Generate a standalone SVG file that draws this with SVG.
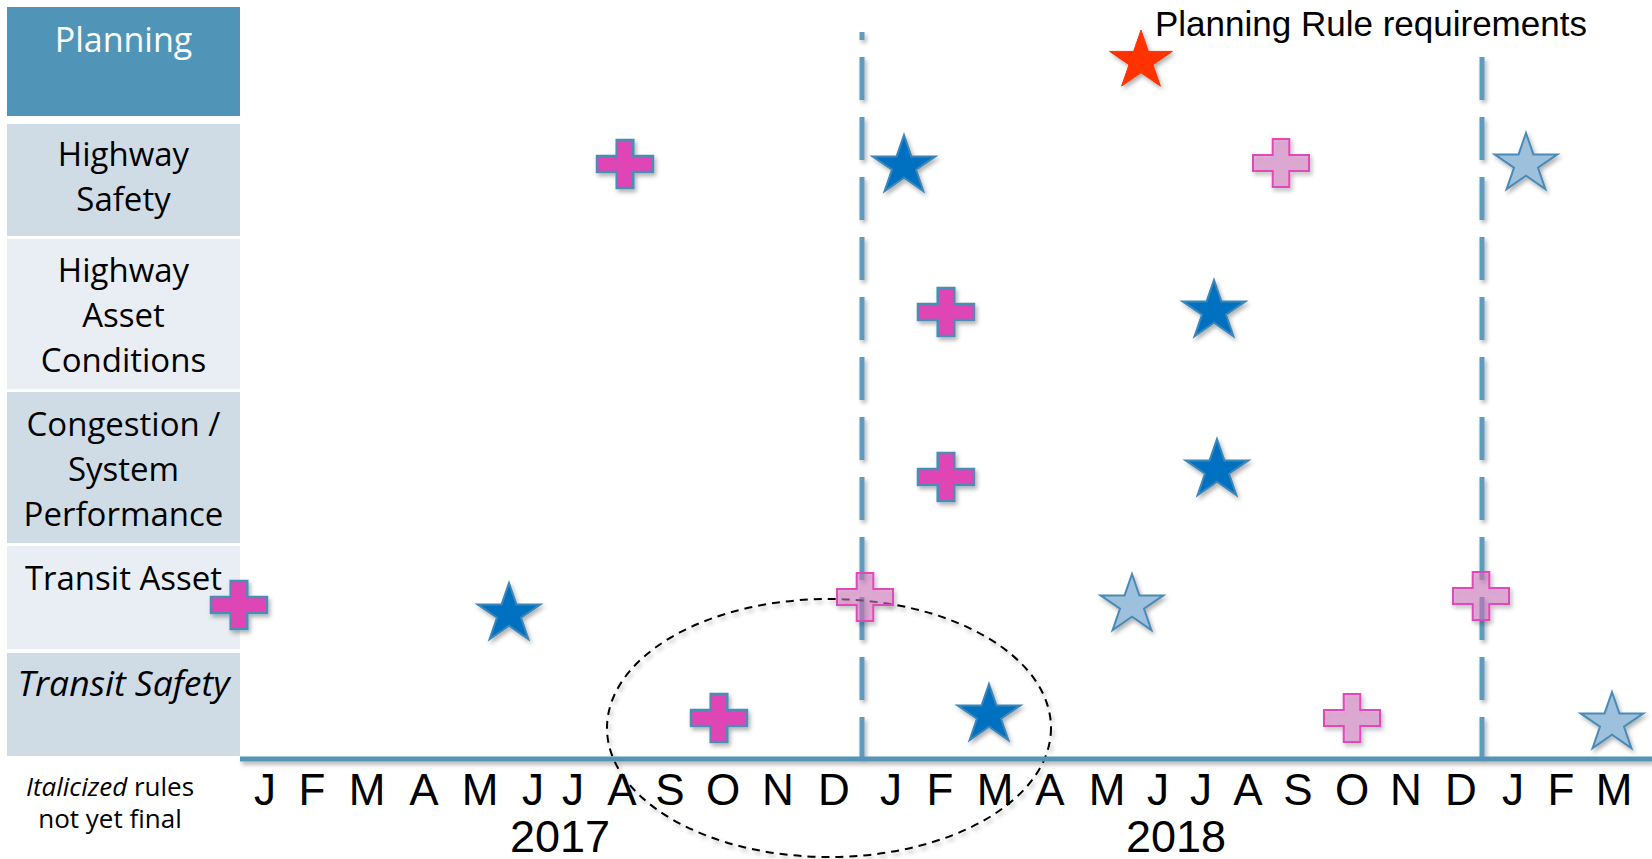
<svg xmlns="http://www.w3.org/2000/svg" width="1652" height="859" viewBox="0 0 1652 859">
<style>
.lbl{font-family:"Open Sans","Noto Sans",sans-serif;font-size:33px;fill:#000;text-anchor:middle}
.mon{font-family:"Liberation Sans",Arial,sans-serif;font-size:44px;fill:#000;text-anchor:middle}
.yr{font-family:"Liberation Sans",Arial,sans-serif;font-size:45px;fill:#000;text-anchor:middle}
.note{font-family:"Open Sans","Noto Sans",sans-serif;font-size:26px;fill:#000;text-anchor:middle}
.dk{fill:#CFDCE6}
.lt{fill:#E8EEF3}
.vdash{stroke:#5F9BBF;stroke-width:5;stroke-dasharray:43 17;fill:none}
.plusM{fill:#E045B5;stroke:#4B8DB5;stroke-width:2.5}
.plusP{fill:#D47AC0;fill-opacity:0.55;stroke:#E048B8;stroke-width:2}
.starB{fill:#0070C0;stroke:#3E86B8;stroke-width:2}
.starL{fill:#9DC1DC;stroke:#4A8BB6;stroke-width:2}
.starR{fill:#FF3300;stroke:#FF3300;stroke-width:1}
</style>
<defs>
<filter id="sh" filterUnits="userSpaceOnUse" x="0" y="0" width="1652" height="859">
<feDropShadow dx="2" dy="3" stdDeviation="2" flood-color="#000" flood-opacity="0.3"/>
</filter>
<path id="plus" d="M-8.3,-24 H8.3 V-8 H28 V8 H8.3 V24 H-8.3 V8 H-28 V-8 H-8.3 Z"/>
<path id="star" d="M0,-31 L7.4,-9.6 L31.4,-9.6 L12,3.7 L19.4,25.1 L0,11.8 L-19.4,25.1 L-12,3.7 L-31.4,-9.6 L-7.4,-9.6 Z"/>
</defs>
<rect width="1652" height="859" fill="#fff"/>

<g id="row-planning">
<rect x="7" y="7" width="233" height="109" fill="#5094B8"/>
<text class="lbl" x="123.5" y="52" style="fill:#fff;font-size:34px">Planning</text>
</g>
<g id="row-highway-safety">
<rect class="dk" x="7" y="124" width="233" height="112"/>
<text class="lbl" x="123.5" y="166">Highway</text>
<text class="lbl" x="123.5" y="211">Safety</text>
</g>
<g id="row-highway-asset">
<rect class="lt" x="7" y="239" width="233" height="150"/>
<text class="lbl" x="123.5" y="282">Highway</text>
<text class="lbl" x="123.5" y="327">Asset</text>
<text class="lbl" x="123.5" y="372">Conditions</text>
</g>
<g id="row-congestion">
<rect class="dk" x="7" y="392" width="233" height="151"/>
<text class="lbl" x="123.5" y="436">Congestion /</text>
<text class="lbl" x="123.5" y="481">System</text>
<text class="lbl" x="123.5" y="526">Performance</text>
</g>
<g id="row-transit-asset">
<rect class="lt" x="7" y="546" width="233" height="103"/>
<text class="lbl" x="123.5" y="590">Transit Asset</text>
</g>
<g id="row-transit-safety">
<rect class="dk" x="7" y="653" width="233" height="103"/>
<text class="lbl" x="123.5" y="696" font-style="italic" style="font-size:35.5px">Transit Safety</text>
</g>
<g id="footnote">
<text class="note" x="110" y="796"><tspan font-style="italic">Italicized</tspan> rules</text>
<text class="note" x="110" y="828">not yet final</text>
</g>

<g id="connectors" filter="url(#sh)">
<line class="vdash" x1="862" y1="32" x2="862" y2="759" stroke-dashoffset="35"/>
<line class="vdash" x1="1482" y1="57" x2="1482" y2="759"/>
<ellipse cx="829" cy="728" rx="222" ry="129" fill="none" stroke="#000" stroke-width="2" stroke-dasharray="8 6"/>
<line x1="240" y1="759" x2="1652" y2="759" stroke="#5294B7" stroke-width="5"/>
</g>

<g id="months">
<text class="mon" x="265" y="805">J</text>
<text class="mon" x="312" y="805">F</text>
<text class="mon" x="367" y="805">M</text>
<text class="mon" x="424" y="805">A</text>
<text class="mon" x="480" y="805">M</text>
<text class="mon" x="533" y="805">J</text>
<text class="mon" x="573" y="805">J</text>
<text class="mon" x="622" y="805">A</text>
<text class="mon" x="670" y="805">S</text>
<text class="mon" x="723" y="805">O</text>
<text class="mon" x="778" y="805">N</text>
<text class="mon" x="834" y="805">D</text>
<text class="mon" x="891" y="805">J</text>
<text class="mon" x="940" y="805">F</text>
<text class="mon" x="995" y="805">M</text>
<text class="mon" x="1050" y="805">A</text>
<text class="mon" x="1107" y="805">M</text>
<text class="mon" x="1158" y="805">J</text>
<text class="mon" x="1201" y="805">J</text>
<text class="mon" x="1248" y="805">A</text>
<text class="mon" x="1298" y="805">S</text>
<text class="mon" x="1352" y="805">O</text>
<text class="mon" x="1406" y="805">N</text>
<text class="mon" x="1461" y="805">D</text>
<text class="mon" x="1513" y="805">J</text>
<text class="mon" x="1561" y="805">F</text>
<text class="mon" x="1614" y="805">M</text>
<text class="yr" x="560" y="852">2017</text>
<text class="yr" x="1176" y="852">2018</text>
</g>

<g id="legend-title">
<text x="1155" y="36" style="font-family:'Liberation Sans',Arial,sans-serif;font-size:35px">Planning Rule requirements</text>
<g filter="url(#sh)"><use href="#star" class="starR" transform="translate(1141,61)"/></g>
</g>

<g id="markers" filter="url(#sh)">
<g id="hs-plus"><use href="#plus" class="plusM" transform="translate(625,164)"/></g>
<g id="hs-star"><use href="#star" class="starB" transform="translate(904,166)"/></g>
<g id="hs-plus2"><use href="#plus" class="plusP" transform="translate(1281,163)"/></g>
<g id="hs-star2"><use href="#star" class="starL" transform="translate(1526,164)"/></g>
<g id="ha-plus"><use href="#plus" class="plusM" transform="translate(946,312)"/></g>
<g id="ha-star"><use href="#star" class="starB" transform="translate(1214,311)"/></g>
<g id="cg-plus"><use href="#plus" class="plusM" transform="translate(946,477)"/></g>
<g id="cg-star"><use href="#star" class="starB" transform="translate(1217,470)"/></g>
<g id="ta-plus"><use href="#plus" class="plusM" transform="translate(239,605)"/></g>
<g id="ta-star"><use href="#star" class="starB" transform="translate(509,614)"/></g>
<g id="ta-plus2"><use href="#plus" class="plusP" transform="translate(865,597)"/></g>
<g id="ta-star2"><use href="#star" class="starL" transform="translate(1132,605)"/></g>
<g id="ta-plus3"><use href="#plus" class="plusP" transform="translate(1481,596)"/></g>
<g id="ts-plus"><use href="#plus" class="plusM" transform="translate(719,718)"/></g>
<g id="ts-star"><use href="#star" class="starB" transform="translate(989,715)"/></g>
<g id="ts-plus2"><use href="#plus" class="plusP" transform="translate(1352,718)"/></g>
<g id="ts-star2"><use href="#star" class="starL" transform="translate(1612,723)"/></g>
</g>
</svg>
